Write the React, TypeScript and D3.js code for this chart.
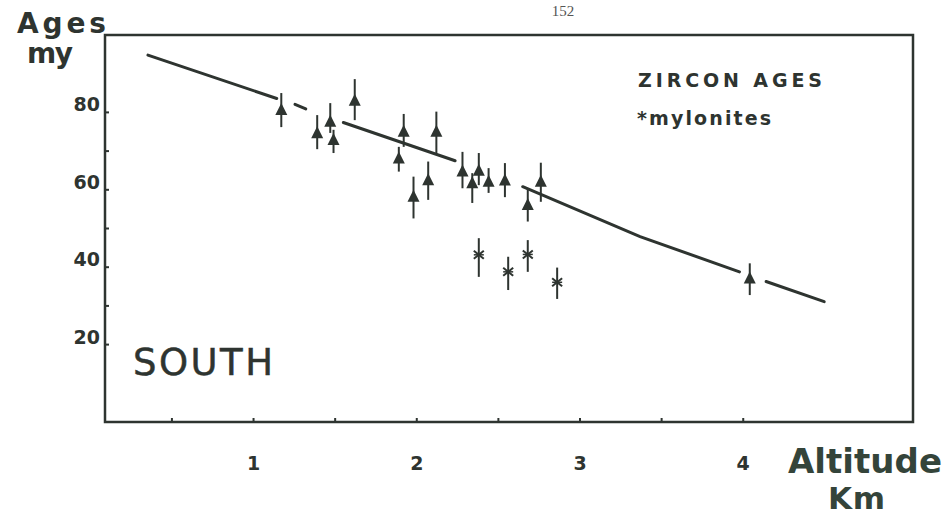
import React from "react";
import * as d3 from "d3";

// ---- data ----
const xTicks = [0.5, 1, 1.5, 2, 2.5, 3, 3.5, 4];
const xTickLabels = [1, 2, 3, 4];
const yTicks = [20, 30, 40, 50, 60, 70, 80];
const yTickLabels = [20, 40, 60, 80];

// Zircon ages (triangles)
const altitudeTri = [1.17, 1.39, 1.47, 1.49, 1.62, 1.92, 1.89, 2.12, 2.07, 1.98, 2.28, 2.38, 2.34, 2.44, 2.54, 2.76, 2.68, 4.04];
const ageTri = [80.6, 74.6, 77.6, 72.9, 83.0, 75.0, 68.1, 75.0, 62.5, 58.2, 64.7, 64.9, 61.7, 62.1, 62.4, 62.1, 56.1, 37.1];
const ageTriMin = [76.2, 70.5, 74.7, 69.5, 78.0, 71.1, 64.7, 69.5, 57.4, 52.6, 60.4, 61.2, 56.6, 59.2, 58.1, 56.9, 51.8, 32.8];
const ageTriMax = [85.0, 79.3, 82.4, 75.5, 88.6, 79.6, 71.1, 80.2, 67.3, 63.4, 69.8, 69.5, 64.3, 65.6, 66.9, 67.0, 60.2, 41.0];

// Mylonites (asterisks)
const altitudeMyl = [2.38, 2.56, 2.68, 2.86];
const ageMyl = [43.2, 38.8, 43.3, 36.1];
const ageMylMin = [37.5, 34.1, 38.8, 31.8];
const ageMylMax = [47.5, 42.7, 47.0, 39.9];

// Trend line, drawn in broken segments
const trendSegments: [number, number][][] = [
  [[0.353, 94.8], [1.142, 83.6]],
  [[1.254, 82.1], [1.32, 80.9]],
  [[1.55, 77.4], [2.235, 67.5]],
  [[2.649, 60.8], [3.368, 47.9], [3.977, 38.8]],
  [[4.14, 36.3], [4.496, 31.1]],
];

const W = 948;
const H = 515;
const margin = { left: 105, right: 35, top: 35, bottom: 93 };
const INK = "#2e3430";
const FONT = "'DejaVu Sans', 'Liberation Sans', sans-serif";

export default function App() {
  const x = d3.scaleLinear().domain([0.09, 5.04]).range([margin.left, W - margin.right]);
  const y = d3.scaleLinear().domain([0, 100]).range([H - margin.bottom, margin.top]);
  const line = d3
    .line<[number, number]>()
    .x((d) => x(d[0]))
    .y((d) => y(d[1]));

  const x0 = margin.left;
  const x1 = W - margin.right;
  const yTop = margin.top;
  const yBot = H - margin.bottom;

  return (
    <svg
      width={W}
      height={H}
      style={{ position: "absolute", left: 0, top: 0, background: "#fff" }}
    >
      <rect x={0} y={0} width={W} height={H} fill="#fff" />
      {/* page number */}
      <text x={563} y={16} textAnchor="middle" fontFamily="'Liberation Serif', serif" fontSize={15} fill="#555">
        152
      </text>

      {/* frame */}
      <path
        d={`M${x0},${yTop} L${x1},${yTop} L${x1},${yBot} L${x0},${yBot} Z`}
        fill="none"
        stroke={INK}
        strokeWidth={2.5}
      />

      {/* y ticks */}
      {yTicks.map((t) => (
        <line key={"yt" + t} x1={x0} x2={x0 + 4} y1={y(t)} y2={y(t)} stroke={INK} strokeWidth={2} />
      ))}
      {yTickLabels.map((t) => (
        <text
          key={"yl" + t}
          x={x0 - 5}
          y={y(t) - 1}
          textAnchor="end"
          fontFamily={FONT}
          fontWeight="bold"
          fontSize={19}
          fill={INK}
        >
          {t}
        </text>
      ))}

      {/* x ticks */}
      {xTicks.map((t) => (
        <line key={"xt" + t} x1={x(t)} x2={x(t)} y1={yBot} y2={yBot - 4} stroke={INK} strokeWidth={2} />
      ))}
      {xTickLabels.map((t) => (
        <text
          key={"xl" + t}
          x={x(t)}
          y={470}
          textAnchor="middle"
          fontFamily={FONT}
          fontWeight="bold"
          fontSize={19}
          fill={INK}
        >
          {t}
        </text>
      ))}

      {/* axis titles */}
      <text x={17} y={33} fontFamily={FONT} fontWeight="bold" fontSize={28} fill={INK} textLength={89} lengthAdjust="spacing">
        Ages
      </text>
      <text x={27} y={63} fontFamily={FONT} fontWeight="bold" fontSize={28} fill={INK} textLength={46} lengthAdjust="spacing">
        my
      </text>
      <text x={788} y={473} fontFamily={FONT} fontWeight="bold" fontSize={34} fill="#34443a" textLength={154} lengthAdjust="spacing">
        Altitude
      </text>
      <text x={828} y={509} fontFamily={FONT} fontWeight="bold" fontSize={31} fill="#34443a" textLength={57} lengthAdjust="spacing">
        Km
      </text>

      {/* annotations */}
      <text x={133} y={375} fontFamily={FONT} fontSize={37} fill={INK} textLength={140} lengthAdjust="spacing" stroke={INK} strokeWidth={0.5}>
        SOUTH
      </text>
      <text x={638} y={87} fontFamily={FONT} fontWeight="bold" fontSize={19} fill={INK} textLength={184} lengthAdjust="spacing">
        ZIRCON AGES
      </text>
      <text x={637} y={125} fontFamily={FONT} fontWeight="bold" fontSize={19} fill={INK} textLength={134} lengthAdjust="spacing">
        *mylonites
      </text>

      {/* trend line */}
      {trendSegments.map((seg, i) => (
        <path key={"seg" + i} d={line(seg) || ""} fill="none" stroke={INK} strokeWidth={3} strokeLinecap="round" />
      ))}

      {/* zircon triangles with error bars */}
      {altitudeTri.map((a, i) => {
        const cx = x(a);
        const cy = y(ageTri[i]);
        return (
          <g key={"tri" + i}>
            <line x1={cx} x2={cx} y1={y(ageTriMax[i])} y2={y(ageTriMin[i])} stroke={INK} strokeWidth={2} />
            <path
              d={`M${cx},${cy - 7} L${cx + 6},${cy + 5} L${cx - 6},${cy + 5} Z`}
              fill={INK}
            />
          </g>
        );
      })}

      {/* mylonites asterisks with error bars */}
      {altitudeMyl.map((a, i) => {
        const cx = x(a);
        const cy = y(ageMyl[i]);
        return (
          <g key={"myl" + i} stroke={INK} strokeWidth={2}>
            <line x1={cx} x2={cx} y1={y(ageMylMax[i])} y2={y(ageMylMin[i])} />
            <line x1={cx - 5} x2={cx + 5} y1={cy - 4} y2={cy + 4} />
            <line x1={cx - 5} x2={cx + 5} y1={cy + 4} y2={cy - 4} />
            <line x1={cx - 5} x2={cx + 5} y1={cy} y2={cy} strokeWidth={1.5} />
          </g>
        );
      })}
    </svg>
  );
}
